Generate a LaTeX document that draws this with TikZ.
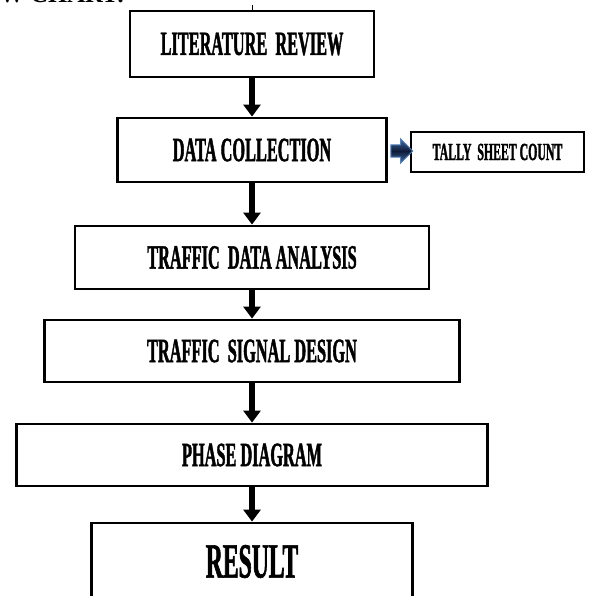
\documentclass[tikz,border=0pt]{standalone}
\usepackage{fontspec}
\setmainfont{Liberation Serif}
\newfontfamily\boxfont{Liberation Serif}[UprightFont={* Bold}, FakeStretch=0.48, FakeBold=1.2]
\newfontfamily\headfont{Liberation Serif}[UprightFont={* Bold}]
\usetikzlibrary{arrows.meta, shapes.arrows}
\definecolor{linkblue}{RGB}{79,129,189}
\definecolor{linknavy}{RGB}{14,26,56}

\begin{document}
\begin{tikzpicture}[
    x=0.03cm, y=-0.03cm,
    box/.style={draw=black, line width=2.4pt, fill=white, inner sep=0pt, font={\boxfont\fontsize{29}{31}\selectfont}},
    arrow/.style={line width=1.8mm, -{Triangle[length=3.6mm, width=5.1mm]}},
    sidearrow/.style={single arrow, single arrow head extend=1.8mm, minimum width=7mm, minimum height=6.6mm, inner sep=1.7mm, draw=linkblue, line width=0.8pt, top color=linkblue!85!black, bottom color=linkblue!85!black, middle color=linknavy}
]
\useasboundingbox (0,0) rectangle (588,596);

% Heading (cut by the page edge)
\node[font={\headfont\fontsize{21}{23}\selectfont}, anchor=base east, inner sep=0pt] (heading) at (125, 3) {FLOW CHART:};
\coordinate (above) at (252, 5);

% Main chain
\foreach \name/\label/\w/\h/\y in {
    lit/LITERATURE\ \ REVIEW/7.32/1.98/44,
    dc/DATA COLLECTION/8.07/1.92/150,
    tda/TRAFFIC\ \ DATA ANALYSIS/10.62/1.89/257.5,
    tsd/TRAFFIC\ \ SIGNAL DESIGN/12.45/1.86/351,
    phase/PHASE\ DIAGRAM/14.13/1.86/455} {
    \node[box, minimum width=\w cm, minimum height=\h cm] (\name) at (252, \y) {\label};
}
\node[box, minimum width=9.63cm, minimum height=2.31cm, font={\boxfont\fontsize{42}{44}\selectfont}] (result) at (252, 561.5) {RESULT};

\draw[line width=0.8pt] (above) -- (lit.north);
\foreach \a/\b in {lit/dc, dc/tda, tda/tsd, tsd/phase, phase/result} {
    \draw[arrow] (\a) -- (\b);
}

% Side branch
\node[box, minimum width=5.19cm, minimum height=1.2cm, font={\boxfont\fontsize{21}{23}\selectfont}] (tally) at (497.5, 152) {TALLY\ \ SHEET COUNT};
\path (dc.east) -- (tally.west) node[sidearrow, midway] (feed) {};

\end{tikzpicture}
\end{document}
